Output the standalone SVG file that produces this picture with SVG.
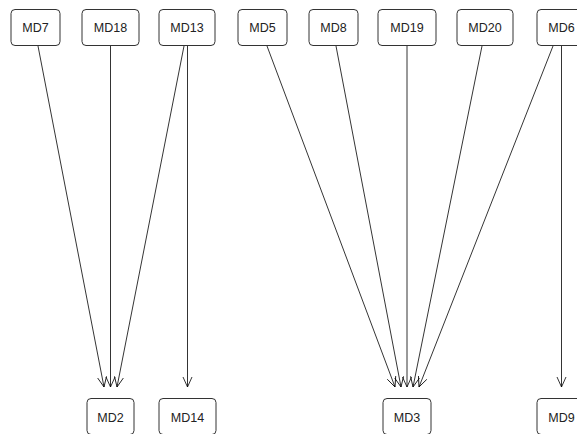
<svg xmlns="http://www.w3.org/2000/svg" width="577" height="434" viewBox="0 0 577 434">
<style>
.n rect{fill:#fff;stroke:#333;stroke-width:1}
.n text{font-family:"Liberation Sans",Arial,sans-serif;font-size:12.5px;fill:#222;text-anchor:middle}
.e line{stroke:#000;stroke-width:0.8;marker-end:url(#a)}
</style>
<defs>
<marker id="a" markerUnits="userSpaceOnUse" markerWidth="12" markerHeight="12" refX="10" refY="5" orient="auto" overflow="visible">
<path d="M0,0.5 L10,5 L0,9.5" fill="none" stroke="#000" stroke-width="0.8"/>
</marker>
</defs>
<g id="connectors" class="e">
<line x1="38" y1="46" x2="104" y2="387"/>
<line x1="110.5" y1="46" x2="110.5" y2="387"/>
<line x1="184" y1="46" x2="117" y2="387"/>
<line x1="187.5" y1="46" x2="187.5" y2="387"/>
<line x1="267" y1="46" x2="395" y2="387"/>
<line x1="336" y1="46" x2="401" y2="387"/>
<line x1="407" y1="46" x2="407" y2="387"/>
<line x1="482" y1="46" x2="413" y2="387"/>
<line x1="553" y1="46" x2="419" y2="387"/>
<line x1="561.5" y1="46" x2="561.5" y2="387"/>
</g>
<g id="MD7" class="n"><rect x="11" y="9.5" width="49" height="36" rx="4"/><text x="35.5" y="32">MD7</text></g>
<g id="MD18" class="n"><rect x="82" y="9.5" width="57" height="36" rx="4"/><text x="110.5" y="32">MD18</text></g>
<g id="MD13" class="n"><rect x="159" y="9.5" width="56" height="36" rx="4"/><text x="187" y="32">MD13</text></g>
<g id="MD5" class="n"><rect x="238" y="9.5" width="49" height="36" rx="4"/><text x="262.5" y="32">MD5</text></g>
<g id="MD8" class="n"><rect x="309" y="9.5" width="49" height="36" rx="4"/><text x="333.5" y="32">MD8</text></g>
<g id="MD19" class="n"><rect x="378" y="9.5" width="58" height="36" rx="4"/><text x="407" y="32">MD19</text></g>
<g id="MD20" class="n"><rect x="457" y="9.5" width="56" height="36" rx="4"/><text x="485" y="32">MD20</text></g>
<g id="MD6" class="n"><rect x="537" y="9.5" width="49" height="36" rx="4"/><text x="561.5" y="32">MD6</text></g>
<g id="MD2" class="n"><rect x="87" y="398.5" width="47" height="36" rx="4"/><text x="110.5" y="422">MD2</text></g>
<g id="MD14" class="n"><rect x="159" y="398.5" width="57" height="36" rx="4"/><text x="187.5" y="422">MD14</text></g>
<g id="MD3" class="n"><rect x="383" y="398.5" width="48" height="36" rx="4"/><text x="407" y="422">MD3</text></g>
<g id="MD9" class="n"><rect x="537" y="398.5" width="49" height="36" rx="4"/><text x="561.5" y="422">MD9</text></g>
</svg>
